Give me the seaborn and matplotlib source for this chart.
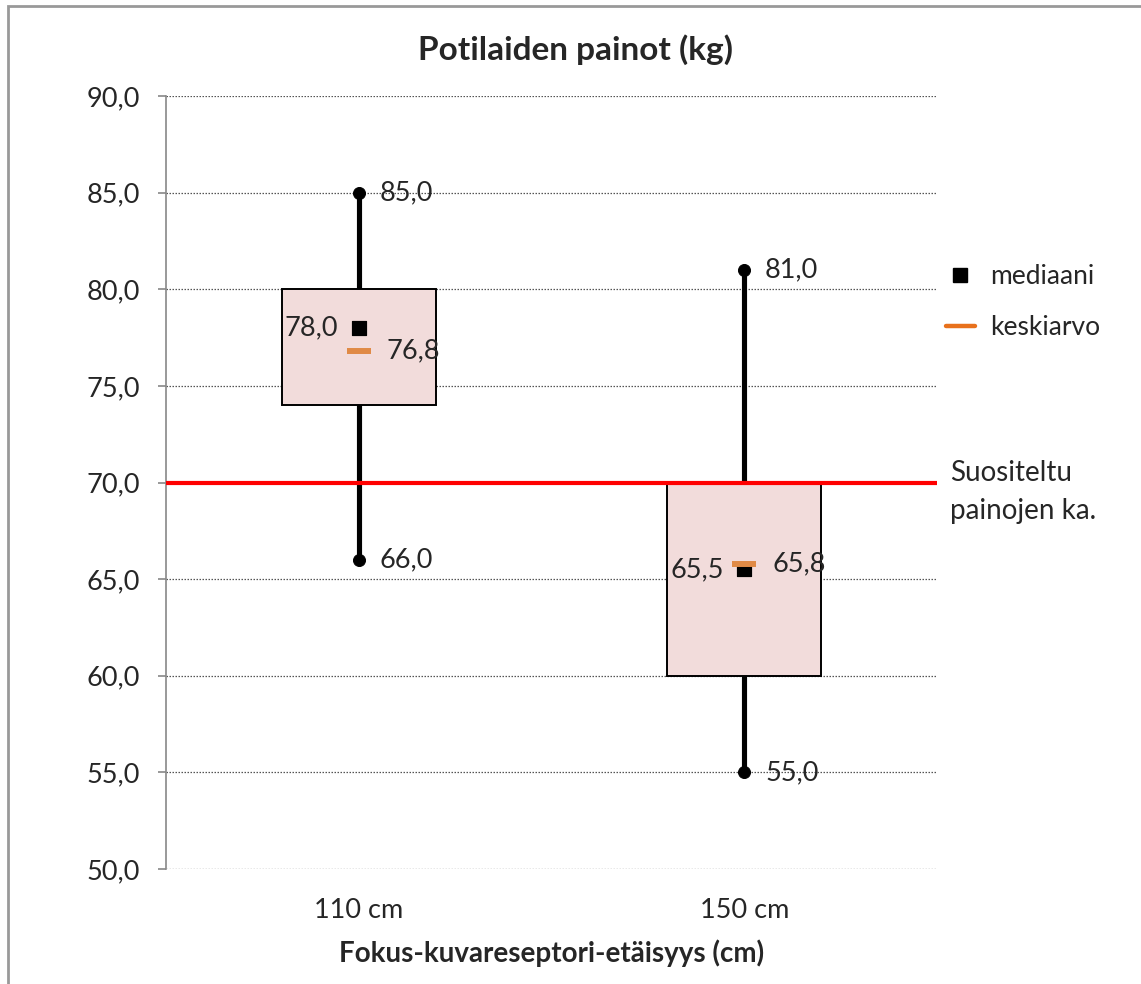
import matplotlib
matplotlib.use("Agg")
import matplotlib.pyplot as plt
import seaborn as sns
import pandas as pd
from matplotlib.patches import Rectangle
from matplotlib.lines import Line2D

categories = ["110 cm", "150 cm"]
minimum = [66.0, 55.0]
q1 = [74.0, 60.0]
q3 = [80.0, 70.0]
maximum = [85.0, 81.0]
median = [78.0, 65.5]
mean = [76.8, 65.8]
recommended = 70.0
yticks = [50, 55, 60, 65, 70, 75, 80, 85, 90]

sns.set_theme(style="white")
plt.rcParams['font.family'] = ['Lato', 'DejaVu Sans']

fig = plt.figure(figsize=(11.41, 9.84), dpi=100)
ax = fig.add_axes([166/1141, 1-869/984, (937-166)/1141, (869-96)/984])

df = pd.DataFrame({"x": range(len(categories)), "cat": categories, "min": minimum,
                   "q1": q1, "q3": q3, "max": maximum, "median": median, "mean": mean})

# grid
for y in yticks:
    ax.axhline(y, color="#555555", lw=0.9, ls=(0, (1.2, 1.2)), zorder=0)

# whiskers
ax.vlines(df["x"], df["min"], df["max"], color="black", lw=3.7, zorder=2)
sns.scatterplot(data=df, x="x", y="max", ax=ax, color="black", s=75, marker="o",
                edgecolor="black", zorder=3, legend=False)
sns.scatterplot(data=df, x="x", y="min", ax=ax, color="black", s=75, marker="o",
                edgecolor="black", zorder=3, legend=False)

# boxes
ax.bar(df["x"], df["q3"] - df["q1"], bottom=df["q1"], width=0.4,
       color="#F2DCDB", edgecolor="black", lw=1.4, zorder=4)

# red line
ax.axhline(recommended, color="#FF0000", lw=3, zorder=5)

# median and mean
sns.scatterplot(data=df, x="x", y="median", ax=ax, color="black", s=115, marker="s",
                edgecolor="black", zorder=6, legend=False)
ax.scatter(df["x"], df["mean"], marker="_", s=280, linewidths=4.3, color="#E08A46", zorder=7)

def fmt(v):
    return f"{v:.1f}".replace(".", ",")

fs = 19.5
for i, r in df.iterrows():
    ax.annotate(fmt(r["max"]), (r["x"], r["max"]), xytext=(15, 0), textcoords="offset points",
                va="center", ha="left", fontsize=fs, zorder=8)
    ax.annotate(fmt(r["min"]), (r["x"], r["min"]), xytext=(15, 0), textcoords="offset points",
                va="center", ha="left", fontsize=fs, zorder=8)
    ax.annotate(fmt(r["median"]), (r["x"], r["median"]), xytext=(-15, 0), textcoords="offset points",
                va="center", ha="right", fontsize=fs, zorder=8)
    ax.annotate(fmt(r["mean"]), (r["x"], r["mean"]), xytext=(20, 0), textcoords="offset points",
                va="center", ha="left", fontsize=fs, zorder=8)

ax.set_xlim(-0.5, 1.5)
ax.set_ylim(50, 90)
ax.set_yticks(yticks)
ax.set_yticklabels([fmt(y) for y in yticks], fontsize=fs)
ax.set_xticks(df["x"])
ax.set_xticklabels(categories, fontsize=fs)
ax.tick_params(axis="y", which="both", left=True, length=6, color="#888888", width=1.2, pad=13)
ax.tick_params(axis="x", length=0, pad=21)
for s in ["top", "right", "bottom"]:
    ax.spines[s].set_visible(False)
ax.spines["left"].set_color("#888888")
ax.spines["left"].set_linewidth(1.2)
ax.set_xlabel("Fokus-kuvareseptori-etäisyys (cm)", fontsize=20, fontweight="bold", labelpad=12)
ax.set_ylabel("")
fig.suptitle("Potilaiden painot (kg)", x=576/1141, y=1-50/984, va="center",
             fontsize=24, fontweight="bold")

handles = [Line2D([], [], marker="s", color="black", ls="", markersize=10),
           Line2D([], [], color="#E8711C", lw=3.2)]
fig.legend(handles, ["mediaani", "keskiarvo"], loc="upper left",
           bbox_to_anchor=(922/1141, 1-240/984), frameon=False, fontsize=19,
           handlelength=1.1, handletextpad=0.6, labelspacing=1.0)

fig.text(950/1141, 1-492/984, "Suositeltu\npainojen ka.", fontsize=20, va="center",
         ha="left", linespacing=1.6)

fig.patches.append(Rectangle((8/1141, -0.01), 1.0, 1-6/984 + 0.01, transform=fig.transFigure,
                             fill=False, edgecolor="#999999", lw=2))

fig.savefig("out.png", dpi=100)
